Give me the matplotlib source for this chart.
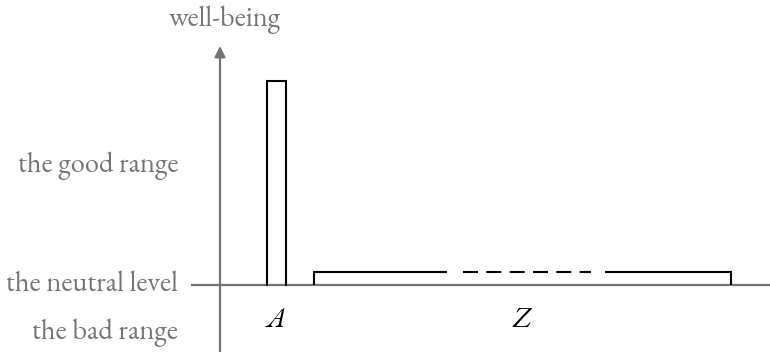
import matplotlib
matplotlib.use("Agg")
import matplotlib.pyplot as plt

# ---- data ----
categories = ["A", "Z"]
wellbeing = [10.0, 0.64]          # well-being relative to the neutral level (0)
range_labels = ["the good range", "the neutral level", "the bad range"]
range_levels = [5.85, 0.0, -2.35]
y_title = "well-being"

# ---- layout (pixel-like x units, vertical axis at x=0) ----
A_left, A_right = 47, 66
Z_left, Z_right = 94, 511
Z_gap_left, Z_dash_start, Z_dash_end, Z_gap_right = 227, 243, 371, 385
GRAY = "#747474"
SERIF = ["EB Garamond", "Liberation Serif", "DejaVu Serif"]
FS = 20.5

fig = plt.figure(figsize=(7.7, 3.52), dpi=100)
ax = fig.add_axes([0, 0, 1, 1])
ax.set_xlim(-220, 550)
ax.set_ylim(-(352 - 285) / 20.4, 285 / 20.4)
ax.axis("off")

# horizontal axis (neutral level)
ax.plot([-29, 550], [0, 0], color=GRAY, lw=1.6, solid_capstyle="butt", zorder=1)
# vertical axis with arrow
ax.annotate("", xy=(0, (285 - 46) / 20.4), xytext=(0, -4),
            arrowprops=dict(arrowstyle="-|>", color=GRAY, lw=1.6,
                            mutation_scale=16, shrinkA=0, shrinkB=0),
            zorder=1)

# bar A (open at bottom)
hA = wellbeing[0]
ax.plot([A_left, A_left, A_right, A_right], [0, hA, hA, 0],
        color="black", lw=1.5, solid_joinstyle="miter", zorder=3)

# bar Z with dashed middle section
hZ = wellbeing[1]
ax.plot([Z_left, Z_left, Z_gap_left], [0, hZ, hZ], color="black", lw=1.5,
        solid_joinstyle="miter", solid_capstyle="butt", zorder=3)
ax.plot([Z_dash_start, Z_dash_end], [hZ, hZ], color="black", lw=1.5,
        linestyle=(0, (7.2, 4.0)), dash_capstyle="butt", zorder=3)
ax.plot([Z_gap_right, Z_right, Z_right], [hZ, hZ, 0], color="black", lw=1.5,
        solid_joinstyle="miter", solid_capstyle="butt", zorder=3)

# category labels
ax.text((A_left + A_right) / 2, -1.75, categories[0], ha="center", va="center",
        fontsize=FS, style="italic", family=SERIF, color="black")
ax.text(302, -1.75, categories[1], ha="center",
        va="center", fontsize=FS, style="italic", family=SERIF, color="black")

# range labels
for lab, lvl in zip(range_labels, range_levels):
    ax.text(-42, lvl, lab, ha="right", va="center", fontsize=FS,
            family=SERIF, color=GRAY)

ax.text(5, (285 - 20) / 20.4, y_title, ha="center", va="center", fontsize=FS,
        family=SERIF, color=GRAY)

fig.savefig("out.png", dpi=100)
